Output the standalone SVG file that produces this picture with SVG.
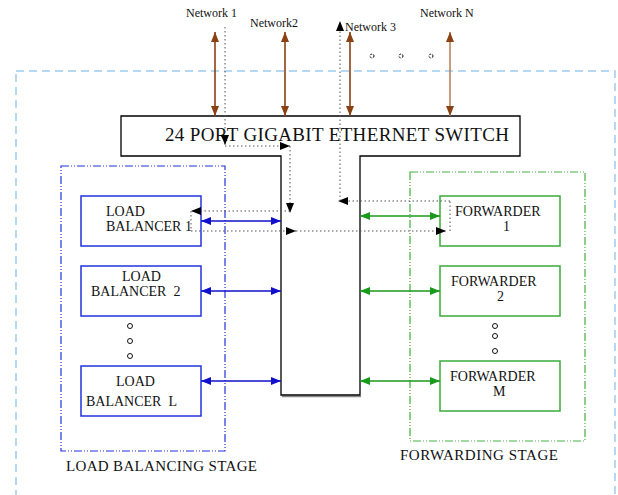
<svg xmlns="http://www.w3.org/2000/svg" width="618" height="495" viewBox="0 0 618 495">
<defs>
<style>
text{font-family:"Liberation Serif","Times New Roman",serif;fill:#111;}
.net{font-size:12px;}
.box{font-size:14px;}
.stage{font-size:15px;}
.dot{fill:none;stroke:#555;stroke-width:1;stroke-dasharray:1.5 2.5;}
.brown{stroke:#8a4214;stroke-width:1.6;fill:none;}
.blue{stroke:#1010cc;stroke-width:1.6;fill:none;}
.green{stroke:#1a9a1a;stroke-width:1.6;fill:none;}
.lb{fill:#fff;stroke:#2233dd;stroke-width:1.5;}
.fw{fill:#fff;stroke:#3aaa3a;stroke-width:1.5;}
.ell{fill:none;stroke:#111;stroke-width:1;}
</style>
<marker id="mb" viewBox="0 0 10 8" refX="10" refY="4" markerWidth="10" markerHeight="8" markerUnits="userSpaceOnUse" orient="auto-start-reverse"><path d="M0,0L10,4L0,8z" fill="#8a4214"/></marker>
<marker id="mu" viewBox="0 0 10 8" refX="10" refY="4" markerWidth="11" markerHeight="8" markerUnits="userSpaceOnUse" orient="auto-start-reverse"><path d="M0,0L10,4L0,8z" fill="#1010cc"/></marker>
<marker id="mg" viewBox="0 0 10 8" refX="10" refY="4" markerWidth="11" markerHeight="8" markerUnits="userSpaceOnUse" orient="auto-start-reverse"><path d="M0,0L10,4L0,8z" fill="#1a9a1a"/></marker>
<marker id="mk" viewBox="0 0 10 8" refX="10" refY="4" markerWidth="10" markerHeight="8" markerUnits="userSpaceOnUse" orient="auto"><path d="M0,0L10,4L0,8z" fill="#000"/></marker>
</defs>
<rect width="618" height="495" fill="#fff"/>
<rect x="16" y="71" width="599" height="440" fill="none" stroke="#9fcdf0" stroke-width="1.5" stroke-dasharray="8 5"/>
<g id="lb-stage">
<rect x="61" y="166" width="164" height="285" fill="none" stroke="#2233dd" stroke-width="1.2" stroke-dasharray="8 2 1 2 1 2"/>
<text class="stage" x="66" y="471" textLength="191">LOAD BALANCING STAGE</text>
</g>
<g id="fw-stage">
<rect x="410" y="172" width="175" height="269" fill="none" stroke="#44b044" stroke-width="1.2" stroke-dasharray="8 2 1 2 1 2"/>
<text class="stage" x="400" y="460" textLength="158">FORWARDING STAGE</text>
</g>
<g id="switch">
<line x1="282" y1="396.5" x2="361" y2="396.5" stroke="#888" stroke-width="1.5"/>
<polygon points="121,116 520,116 520,156 360,156 360,395 281,395 281,156 121,156" fill="#fff" stroke="#000" stroke-width="1.3"/>
<text x="165" y="141" font-size="19" textLength="344">24 PORT GIGABIT ETHERNET SWITCH</text>
</g>
<g id="lb1"><rect class="lb" x="81" y="196" width="120" height="50"/>
<text class="box" x="106" y="216">LOAD</text><text class="box" x="106" y="231">BALANCER 1</text></g>
<g id="lb2"><rect class="lb" x="81" y="266" width="120" height="50"/>
<text class="box" x="122" y="281">LOAD</text><text class="box" x="91" y="296" xml:space="preserve">BALANCER  2</text></g>
<g id="lbl"><rect class="lb" x="81" y="366" width="120" height="50"/>
<text class="box" x="116" y="386">LOAD</text><text class="box" x="86" y="406" xml:space="preserve">BALANCER  L</text></g>
<g id="lb-dots"><circle class="ell" cx="130" cy="326" r="2.5"/><circle class="ell" cx="130" cy="341" r="2.5"/><circle class="ell" cx="130" cy="356" r="2.5"/></g>
<g id="fw1"><rect class="fw" x="440" y="196" width="120" height="50"/>
<text class="box" x="455" y="216">FORWARDER</text><text class="box" x="503" y="231">1</text></g>
<g id="fw2"><rect class="fw" x="440" y="266" width="120" height="50"/>
<text class="box" x="451" y="286">FORWARDER</text><text class="box" x="497" y="301">2</text></g>
<g id="fwm"><rect class="fw" x="440" y="361" width="120" height="50"/>
<text class="box" x="450" y="381">FORWARDER</text><text class="box" x="493" y="396">M</text></g>
<g id="fw-dots"><circle class="ell" cx="495" cy="326" r="2.5"/><circle class="ell" cx="495" cy="336" r="2.5"/><circle class="ell" cx="495" cy="351" r="2.5"/></g>
<g id="networks">
<text class="net" x="186" y="17">Network 1</text>
<text class="net" x="250" y="27">Network2</text>
<text class="net" x="345" y="31">Network 3</text>
<text class="net" x="420" y="17">Network N</text>
<circle class="ell" cx="372" cy="56" r="2" stroke-dasharray="2 1.2"/>
<circle class="ell" cx="401" cy="56" r="2" stroke-dasharray="2 1.2"/>
<circle class="ell" cx="431" cy="56" r="2" stroke-dasharray="2 1.2"/>
</g>
<g id="connectors">
<line class="brown" x1="215" y1="32" x2="215" y2="116" marker-start="url(#mb)" marker-end="url(#mb)"/>
<line class="brown" x1="285" y1="32" x2="285" y2="116" marker-start="url(#mb)" marker-end="url(#mb)"/>
<line class="brown" x1="350" y1="32" x2="350" y2="116" marker-start="url(#mb)" marker-end="url(#mb)"/>
<line x1="450" y1="32" x2="450" y2="116" stroke="#b8865c" stroke-width="1.6" marker-start="url(#mb)" marker-end="url(#mb)"/>
<line class="blue" x1="201" y1="221" x2="281" y2="221" marker-start="url(#mu)" marker-end="url(#mu)"/>
<line class="blue" x1="201" y1="291" x2="281" y2="291" marker-start="url(#mu)" marker-end="url(#mu)"/>
<line class="blue" x1="201" y1="381" x2="281" y2="381" marker-start="url(#mu)" marker-end="url(#mu)"/>
<line class="green" x1="360" y1="216" x2="440" y2="216" marker-start="url(#mg)" marker-end="url(#mg)"/>
<line class="green" x1="360" y1="291" x2="440" y2="291" marker-start="url(#mg)" marker-end="url(#mg)"/>
<line class="green" x1="360" y1="381" x2="440" y2="381" marker-start="url(#mg)" marker-end="url(#mg)"/>
<line class="dot" x1="225" y1="27" x2="225" y2="145" marker-end="url(#mk)"/>
<line class="dot" x1="225" y1="146" x2="290" y2="146" marker-end="url(#mk)"/>
<line class="dot" x1="290" y1="146" x2="290" y2="213" marker-end="url(#mk)"/>
<line class="dot" x1="290" y1="211" x2="191" y2="211" marker-end="url(#mk)"/>
<line class="dot" x1="191" y1="211" x2="191" y2="231"/>
<line class="dot" x1="191" y1="231" x2="296" y2="231" marker-end="url(#mk)"/>
<line class="dot" x1="296" y1="231" x2="446" y2="231" marker-end="url(#mk)"/>
<line class="dot" x1="450" y1="231" x2="450" y2="201"/>
<line class="dot" x1="450" y1="201" x2="338" y2="201" marker-end="url(#mk)"/>
<line class="dot" x1="340" y1="201" x2="340" y2="21" marker-end="url(#mk)"/>
</g>
</svg>
